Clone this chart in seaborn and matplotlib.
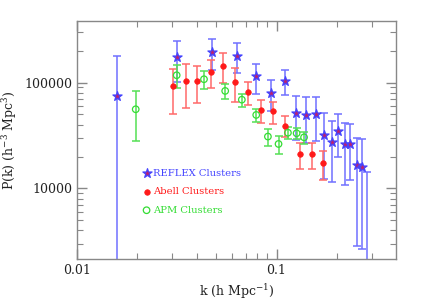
import numpy as np
import pandas as pd
import seaborn as sns
import matplotlib.pyplot as plt
from matplotlib.ticker import LogLocator, NullFormatter

# REFLEX clusters (последняя точка отрицательная -> только полоса ошибки)
reflex_k = [0.0159, 0.0316, 0.0473, 0.0630, 0.0788, 0.0940, 0.110, 0.1252, 0.141,
            0.157, 0.173, 0.1905, 0.2026, 0.219, 0.2346, 0.2515, 0.2665, 0.2824]
reflex_p = [75300, 176000, 195000, 180000, 115000, 79900, 104400, 51300, 49800,
            50500, 31800, 27300, 35100, 26100, 26450, 16500, 15900, -2000]
reflex_err = [103700, 74000, 64000, 56000, 36500, 25800, 27500, 22800, 23000,
              22250, 19600, 15900, 15200, 15400, 14500, 13640, 13250, 16200]

# Abell clusters
abell_k = [0.0302, 0.0352, 0.0401, 0.0471, 0.0541, 0.0622, 0.0723, 0.0831,
           0.0962, 0.110, 0.1305, 0.150, 0.171]
abell_p = [93000, 103800, 103800, 125500, 143900, 101500, 81600, 55100,
           53600, 39200, 21000, 21000, 17400]
abell_err = [42000, 46000, 39000, 37200, 45500, 35600, 19800, 13900,
             12700, 8700, 5900, 5900, 5400]

# APM clusters
apm_k = [0.0197, 0.0316, 0.0433, 0.0553, 0.0670, 0.0791, 0.0905, 0.1023,
         0.114, 0.126, 0.1373]
apm_p = [56000, 117500, 107700, 83500, 69000, 49500, 30900, 26300,
         33600, 33200, 30400]
apm_err = [28000, 28800, 21000, 13200, 9900, 7400, 5500, 5200,
           4250, 4200, 4000]

sns.set_style('ticks')
plt.rcParams['font.family'] = ['DejaVu Serif']
plt.rcParams['mathtext.fontset'] = 'dejavuserif'

fig = plt.figure(figsize=(4.25, 3.05), dpi=100)
ax = fig.add_axes([0.181, 0.151, 0.751, 0.781])

blue, red, green = '#4444ff', '#ff1a1a', '#33dd33'

ax.errorbar(reflex_k, reflex_p, yerr=reflex_err, fmt='none', ecolor='#7070ff',
            elinewidth=1.1, capsize=3, capthick=1.1, zorder=2)
ax.errorbar(abell_k, abell_p, yerr=abell_err, fmt='none', ecolor='#ff6a6a',
            elinewidth=1.1, capsize=3, capthick=1.1, zorder=3)
ax.errorbar(apm_k, apm_p, yerr=apm_err, fmt='none', ecolor='#55e055',
            elinewidth=1.1, capsize=3, capthick=1.1, zorder=3)

reflex_df = pd.DataFrame({'k': reflex_k, 'P': reflex_p})
reflex_df = reflex_df[reflex_df['P'] > 0]
sns.scatterplot(data=reflex_df, x='k', y='P', marker='*', s=48, color='#c0206a',
                edgecolor=blue, linewidth=0.9, label='REFLEX Clusters', ax=ax, zorder=4)
sns.scatterplot(x=abell_k, y=abell_p, marker='o', s=16, color=red, edgecolor=red,
                linewidth=0.5, label='Abell Clusters', ax=ax, zorder=5)
sns.scatterplot(x=apm_k, y=apm_p, marker='o', s=22, facecolor='none', edgecolor=green,
                linewidth=0.9, label='APM Clusters', ax=ax, zorder=5)

ax.set_xscale('log')
ax.set_yscale('log')
ax.set_xlim(0.01, 0.397)
ax.set_ylim(2150, 385000)

ax.set_xticks([0.01, 0.1])
ax.set_xticklabels(['0.01', '0.1'])
ax.set_yticks([10000, 100000])
ax.set_yticklabels(['10000', '100000'])
ax.xaxis.set_minor_locator(LogLocator(base=10, subs=np.arange(2, 10)))
ax.yaxis.set_minor_locator(LogLocator(base=10, subs=np.arange(2, 10)))
ax.xaxis.set_minor_formatter(NullFormatter())
ax.yaxis.set_minor_formatter(NullFormatter())

for s in ax.spines.values():
    s.set_color('#888888')
    s.set_linewidth(1.0)
ax.tick_params(which='both', direction='in', top=True, right=True, color='#888888',
               labelsize=9, labelcolor='#222222')
ax.tick_params(which='major', length=7, width=1.0)
ax.tick_params(which='minor', length=4, width=0.8)

ax.set_xlabel(r'k (h Mpc$^{-1}$)', fontsize=9, color='#222222')
ax.set_ylabel(r'P(k) (h$^{-3}$ Mpc$^{3}$)', fontsize=9, color='#222222')

leg = ax.legend(loc='upper left', bbox_to_anchor=(0.19, 0.395), frameon=False,
                fontsize=7.2, handletextpad=0.1, handlelength=1.0, labelspacing=0.95,
                borderaxespad=0, labelcolor='markeredgecolor')

fig.savefig('out.png', dpi=100)
